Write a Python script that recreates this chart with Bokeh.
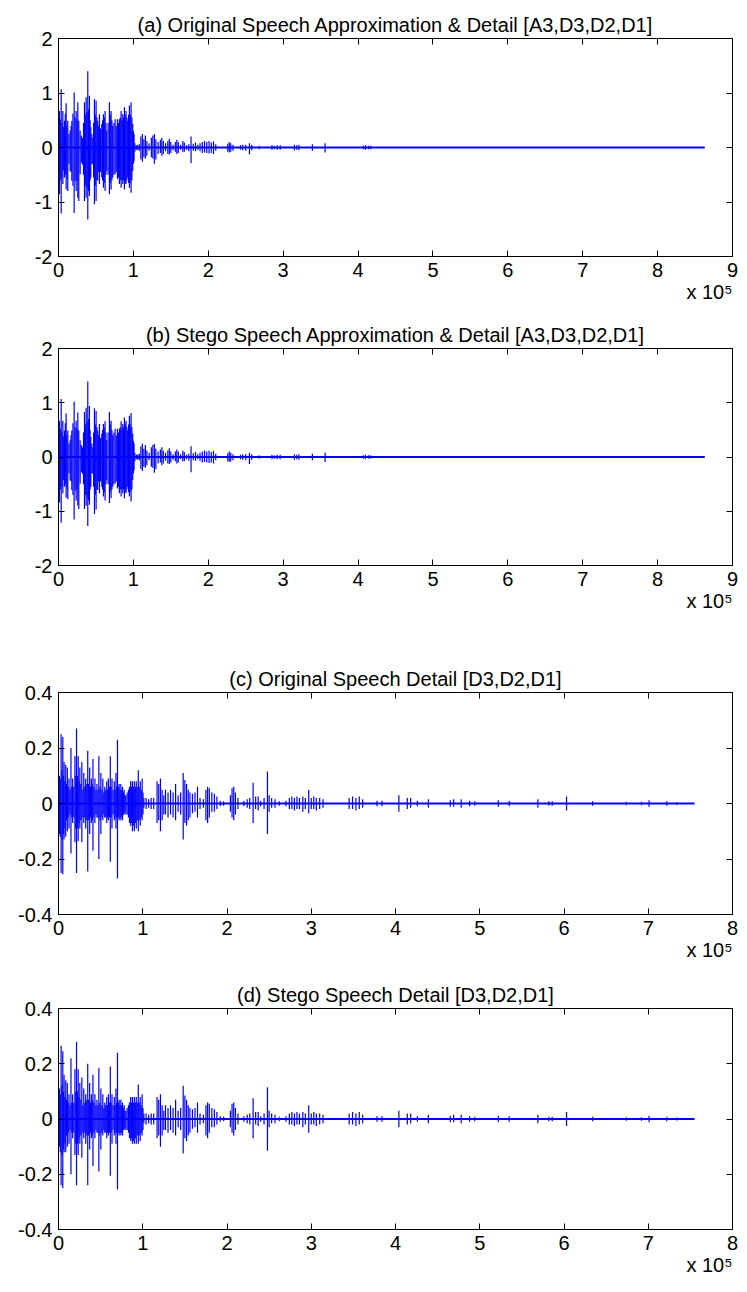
import numpy as np
from bokeh.plotting import figure
from bokeh.layouts import column
from bokeh.models import Range1d, FixedTicker, LinearAxis, ColumnDataSource, Title
from bokeh.embed import file_html
from bokeh.resources import INLINE

FONT = "Liberation Sans"
BLUE = "#0000ff"

# ---------------- data (x in units of 1e5 samples) ----------------
titles = [
    "(a) Original Speech Approximation & Detail [A3,D3,D2,D1]",
    "(b) Stego Speech Approximation & Detail [A3,D3,D2,D1]",
    "(c) Original Speech Detail [D3,D2,D1]",
    "(d) Stego Speech Detail [D3,D2,D1]",
]
x_multiplier = "x 10\u2075"
approx_xticks = [0, 1, 2, 3, 4, 5, 6, 7, 8, 9]
approx_xlabels = ["0", "1", "2", "3", "4", "5", "6", "7", "8", "9"]
approx_yticks = [-2, -1, 0, 1, 2]
approx_ylabels = ["-2", "-1", "0", "1", "2"]
detail_xticks = [0, 1, 2, 3, 4, 5, 6, 7, 8]
detail_xlabels = ["0", "1", "2", "3", "4", "5", "6", "7", "8"]
detail_yticks = [-0.4, -0.2, 0, 0.2, 0.4]
detail_ylabels = ["-0.4", "-0.2", "0", "0.2", "0.4"]

approx_length = 8.63
detail_length = 7.55

a_x = [
    0.005, 0.013, 0.024, 0.036, 0.047, 0.058, 0.069, 0.080, 0.091, 0.102,
    0.113, 0.124, 0.140, 0.156, 0.167, 0.178, 0.193, 0.209, 0.222, 0.236,
    0.247, 0.258, 0.271, 0.289, 0.305, 0.320, 0.334, 0.347, 0.358, 0.369,
    0.380, 0.391, 0.402, 0.413, 0.422, 0.431, 0.445, 0.458, 0.469, 0.480,
    0.491, 0.502, 0.513, 0.524, 0.536, 0.547, 0.562, 0.578, 0.589, 0.600,
    0.611, 0.622, 0.633, 0.644, 0.662, 0.680, 0.691, 0.702, 0.713, 0.724,
    0.740, 0.756, 0.771, 0.787, 0.800, 0.813, 0.825, 0.836, 0.847, 0.858,
    0.869, 0.880, 0.891, 0.902, 0.913, 0.924, 0.936, 0.947, 0.958, 0.969,
    0.980, 0.991, 1.000, 1.009, 1.020, 1.040, 1.060, 1.080, 1.100, 1.120,
    1.14, 1.16, 1.18, 1.21, 1.24, 1.26, 1.28, 1.30, 1.33, 1.36,
    1.38, 1.40, 1.43, 1.46, 1.48, 1.50, 1.53, 1.56, 1.58, 1.60,
    1.63, 1.66, 1.68, 1.71, 1.74, 1.77, 1.80, 1.83, 1.86, 1.89,
    1.92, 1.95, 1.98, 2.01, 2.04, 2.07, 2.10, 2.26, 2.28, 2.30,
    2.33, 2.43, 2.46, 2.50, 2.55, 2.58, 2.68, 2.85, 2.88, 2.92,
    2.96, 3.15, 3.18, 3.21, 3.39, 3.56, 4.07, 4.10, 4.14, 4.17,
]
a_top = [
    0.35, 0.67, 0.52, 1.07, 0.45, 0.67, 0.38, 0.49, 0.62, 0.81,
    0.40, 0.49, 0.25, 0.31, 0.40, 0.49, 0.62, 1.01, 0.55, 0.67,
    0.52, 0.83, 0.49, 0.31, 0.22, 0.18, 0.45, 0.83, 0.60, 0.92,
    0.65, 1.40, 0.70, 0.95, 0.50, 0.37, 0.25, 0.18, 0.45, 0.89,
    0.60, 0.86, 0.55, 0.49, 0.40, 0.61, 0.35, 0.43, 0.50, 0.61,
    0.55, 0.67, 0.45, 0.31, 0.45, 0.83, 0.60, 0.67, 0.50, 0.40,
    0.45, 0.52, 0.40, 0.52, 0.45, 0.52, 0.55, 0.67, 0.50, 0.61,
    0.55, 0.74, 0.60, 0.67, 0.55, 0.49, 0.60, 0.77, 0.60, 0.83,
    0.55, 0.43, 0.30, 0.25, 0.08, 0.04, 0.05, 0.06, 0.20, 0.25,
    0.15, 0.22, 0.12, 0.08, 0.18, 0.22, 0.25, 0.15, 0.10, 0.14,
    0.18, 0.12, 0.08, 0.12, 0.16, 0.10, 0.05, 0.10, 0.14, 0.10,
    0.05, 0.12, 0.09, 0.04, 0.06, 0.20, 0.07, 0.09, 0.05, 0.08,
    0.10, 0.12, 0.10, 0.12, 0.09, 0.11, 0.06, 0.07, 0.10, 0.08,
    0.05, 0.04, 0.05, 0.05, 0.08, 0.05, 0.03, 0.04, 0.03, 0.04,
    0.04, 0.05, 0.04, 0.05, 0.06, 0.08, 0.03, 0.04, 0.03, 0.03,
]
a_bot = [
    -0.40, -0.86, -0.60, -1.21, -0.55, -0.67, -0.42, -0.55, -0.50, -0.77,
    -0.58, -0.80, -0.30, -0.43, -0.45, -0.61, -0.70, -1.20, -0.62, -0.80,
    -0.60, -0.92, -0.98, -0.49, -0.28, -0.31, -0.50, -0.98, -0.70, -0.92,
    -0.75, -1.32, -0.80, -0.89, -0.60, -0.55, -0.30, -0.31, -0.55, -1.04,
    -0.70, -0.98, -0.60, -0.61, -0.45, -0.67, -0.45, -0.55, -0.60, -0.74,
    -0.65, -0.80, -0.50, -0.43, -0.50, -0.86, -0.65, -0.77, -0.60, -0.55,
    -0.50, -0.49, -0.45, -0.58, -0.55, -0.67, -0.60, -0.74, -0.60, -0.67,
    -0.60, -0.77, -0.65, -0.67, -0.60, -0.55, -0.65, -0.74, -0.65, -0.83,
    -0.60, -0.43, -0.30, -0.25, -0.08, -0.04, -0.05, -0.06, -0.22, -0.26,
    -0.18, -0.20, -0.15, -0.06, -0.18, -0.20, -0.30, -0.22, -0.12, -0.10,
    -0.15, -0.12, -0.07, -0.12, -0.13, -0.10, -0.05, -0.08, -0.12, -0.10,
    -0.04, -0.08, -0.08, -0.04, -0.07, -0.29, -0.06, -0.07, -0.04, -0.07,
    -0.10, -0.09, -0.10, -0.11, -0.10, -0.12, -0.06, -0.08, -0.09, -0.08,
    -0.06, -0.04, -0.05, -0.06, -0.13, -0.05, -0.03, -0.04, -0.03, -0.04,
    -0.04, -0.05, -0.04, -0.05, -0.06, -0.09, -0.03, -0.04, -0.03, -0.03,
]

b_x = list(a_x)
b_top = [
    0.35, 0.67, 0.52, 1.07, 0.45, 0.67, 0.38, 0.49, 0.62, 0.80,
    0.40, 0.49, 0.25, 0.31, 0.40, 0.49, 0.62, 1.02, 0.55, 0.67,
    0.52, 0.82, 0.49, 0.31, 0.22, 0.18, 0.45, 0.83, 0.60, 0.91,
    0.65, 1.39, 0.70, 0.94, 0.50, 0.37, 0.25, 0.18, 0.45, 0.90,
    0.60, 0.85, 0.55, 0.49, 0.40, 0.61, 0.35, 0.43, 0.50, 0.61,
    0.55, 0.66, 0.45, 0.31, 0.45, 0.83, 0.60, 0.67, 0.50, 0.40,
    0.45, 0.52, 0.40, 0.52, 0.45, 0.52, 0.55, 0.66, 0.50, 0.61,
    0.55, 0.73, 0.60, 0.67, 0.55, 0.49, 0.60, 0.76, 0.60, 0.81,
    0.55, 0.43, 0.30, 0.25, 0.08, 0.04, 0.05, 0.06, 0.20, 0.25,
    0.15, 0.22, 0.12, 0.08, 0.18, 0.22, 0.24, 0.15, 0.10, 0.14,
    0.18, 0.12, 0.08, 0.12, 0.16, 0.10, 0.05, 0.10, 0.14, 0.10,
    0.05, 0.12, 0.09, 0.04, 0.06, 0.20, 0.07, 0.09, 0.05, 0.08,
    0.10, 0.12, 0.10, 0.12, 0.09, 0.11, 0.06, 0.07, 0.10, 0.08,
    0.05, 0.04, 0.05, 0.05, 0.08, 0.05, 0.03, 0.04, 0.03, 0.04,
    0.04, 0.05, 0.04, 0.05, 0.06, 0.08, 0.03, 0.04, 0.03, 0.03,
]
b_bot = [
    -0.40, -0.84, -0.60, -1.21, -0.55, -0.67, -0.42, -0.55, -0.50, -0.75,
    -0.58, -0.78, -0.30, -0.43, -0.45, -0.61, -0.70, -1.15, -0.62, -0.80,
    -0.60, -0.90, -0.96, -0.49, -0.28, -0.31, -0.50, -0.96, -0.70, -0.90,
    -0.75, -1.27, -0.80, -0.88, -0.60, -0.55, -0.30, -0.31, -0.55, -1.05,
    -0.70, -0.97, -0.60, -0.61, -0.45, -0.67, -0.45, -0.55, -0.60, -0.73,
    -0.65, -0.80, -0.50, -0.43, -0.50, -0.85, -0.65, -0.76, -0.60, -0.55,
    -0.50, -0.49, -0.45, -0.58, -0.55, -0.67, -0.60, -0.73, -0.60, -0.67,
    -0.60, -0.76, -0.65, -0.67, -0.60, -0.55, -0.65, -0.73, -0.65, -0.82,
    -0.60, -0.43, -0.30, -0.25, -0.08, -0.04, -0.05, -0.06, -0.22, -0.26,
    -0.18, -0.20, -0.15, -0.06, -0.18, -0.20, -0.29, -0.22, -0.12, -0.10,
    -0.15, -0.12, -0.07, -0.12, -0.13, -0.10, -0.05, -0.08, -0.12, -0.10,
    -0.04, -0.08, -0.08, -0.04, -0.07, -0.28, -0.06, -0.07, -0.04, -0.07,
    -0.10, -0.09, -0.10, -0.11, -0.10, -0.12, -0.06, -0.08, -0.09, -0.08,
    -0.06, -0.04, -0.05, -0.06, -0.13, -0.05, -0.03, -0.04, -0.03, -0.04,
    -0.04, -0.05, -0.04, -0.05, -0.06, -0.09, -0.03, -0.04, -0.03, -0.03,
]

c_x = [
    0.006, 0.012, 0.021, 0.031, 0.041, 0.051, 0.060, 0.066, 0.076, 0.086,
    0.096, 0.105, 0.115, 0.125, 0.137, 0.148, 0.158, 0.168, 0.181, 0.195,
    0.205, 0.214, 0.224, 0.234, 0.244, 0.253, 0.265, 0.277, 0.289, 0.300,
    0.312, 0.323, 0.335, 0.347, 0.358, 0.370, 0.380, 0.390, 0.400, 0.409,
    0.420, 0.432, 0.444, 0.456, 0.468, 0.479, 0.491, 0.503, 0.515, 0.526,
    0.538, 0.549, 0.561, 0.573, 0.583, 0.592, 0.604, 0.615, 0.625, 0.635,
    0.648, 0.662, 0.672, 0.682, 0.691, 0.700, 0.710, 0.720, 0.730, 0.740,
    0.750, 0.760, 0.770, 0.780, 0.790, 0.800, 0.815, 0.830, 0.843, 0.857,
    0.867, 0.877, 0.888, 0.900, 0.912, 0.923, 0.935, 0.947, 0.958, 0.970,
    0.982, 0.993, 1.003, 1.013, 1.04, 1.07, 1.10, 1.13, 1.17, 1.19,
    1.21, 1.23, 1.25, 1.27, 1.30, 1.33, 1.36, 1.39, 1.42, 1.45,
    1.48, 1.50, 1.52, 1.54, 1.56, 1.59, 1.62, 1.65, 1.68, 1.72,
    1.75, 1.77, 1.79, 1.82, 1.85, 1.88, 1.92, 1.96, 2.04, 2.06,
    2.08, 2.10, 2.13, 2.20, 2.24, 2.27, 2.31, 2.34, 2.37, 2.40,
    2.44, 2.48, 2.50, 2.53, 2.57, 2.62, 2.70, 2.74, 2.77, 2.80,
    2.83, 2.86, 2.90, 2.93, 2.97, 3.00, 3.03, 3.06, 3.10, 3.14,
    3.45, 3.49, 3.53, 3.57, 3.61, 3.78, 3.84, 4.04, 4.14, 4.18,
    4.26, 4.39, 4.65, 4.69, 4.78, 4.88, 4.94, 5.22, 5.35, 5.69,
    5.82, 5.86, 6.03, 6.34, 6.74, 6.92, 7.01, 7.22, 7.34,
]
c_top = [
    0.05, 0.10, 0.09, 0.25, 0.12, 0.24, 0.10, 0.15, 0.08, 0.14,
    0.07, 0.13, 0.06, 0.09, 0.05, 0.20, 0.06, 0.09, 0.06, 0.17,
    0.10, 0.27, 0.10, 0.17, 0.08, 0.13, 0.07, 0.15, 0.05, 0.11,
    0.06, 0.09, 0.07, 0.19, 0.07, 0.13, 0.06, 0.09, 0.07, 0.16,
    0.06, 0.09, 0.05, 0.07, 0.05, 0.17, 0.06, 0.11, 0.05, 0.09,
    0.04, 0.06, 0.05, 0.08, 0.05, 0.09, 0.06, 0.17, 0.06, 0.09,
    0.05, 0.08, 0.05, 0.11, 0.06, 0.23, 0.06, 0.07, 0.05, 0.07,
    0.05, 0.06, 0.04, 0.05, 0.03, 0.03, 0.04, 0.05, 0.06, 0.08,
    0.06, 0.08, 0.06, 0.08, 0.06, 0.08, 0.06, 0.12, 0.06, 0.08,
    0.05, 0.09, 0.04, 0.02, 0.02, 0.015, 0.02, 0.02, 0.08, 0.07,
    0.09, 0.05, 0.03, 0.05, 0.04, 0.05, 0.04, 0.07, 0.03, 0.04,
    0.11, 0.085, 0.07, 0.05, 0.04, 0.035, 0.04, 0.06, 0.02, 0.015,
    0.05, 0.06, 0.055, 0.04, 0.035, 0.025, 0.01, 0.008, 0.03, 0.055,
    0.06, 0.04, 0.02, 0.01, 0.015, 0.02, 0.075, 0.025, 0.025, 0.01,
    0.02, 0.115, 0.03, 0.02, 0.015, 0.008, 0.01, 0.02, 0.025, 0.02,
    0.025, 0.02, 0.025, 0.02, 0.05, 0.02, 0.025, 0.02, 0.02, 0.015,
    0.02, 0.025, 0.02, 0.025, 0.015, 0.01, 0.01, 0.03, 0.02, 0.02,
    0.01, 0.015, 0.012, 0.015, 0.015, 0.01, 0.008, 0.012, 0.01, 0.015,
    0.008, 0.008, 0.025, 0.008, 0.006, 0.006, 0.012, 0.008, 0.005,
]
c_bot = [
    -0.06, -0.11, -0.12, -0.25, -0.13, -0.255, -0.11, -0.13, -0.09, -0.12,
    -0.06, -0.10, -0.05, -0.09, -0.04, -0.18, -0.05, -0.07, -0.05, -0.14,
    -0.09, -0.25, -0.09, -0.135, -0.07, -0.09, -0.06, -0.14, -0.05, -0.07,
    -0.05, -0.09, -0.06, -0.245, -0.06, -0.11, -0.05, -0.07, -0.06, -0.17,
    -0.05, -0.07, -0.04, -0.05, -0.05, -0.20, -0.06, -0.11, -0.05, -0.06,
    -0.04, -0.05, -0.05, -0.07, -0.05, -0.06, -0.05, -0.21, -0.05, -0.09,
    -0.04, -0.06, -0.05, -0.09, -0.05, -0.27, -0.05, -0.06, -0.05, -0.06,
    -0.05, -0.06, -0.04, -0.04, -0.03, -0.04, -0.04, -0.05, -0.07, -0.08,
    -0.07, -0.10, -0.08, -0.10, -0.07, -0.09, -0.06, -0.10, -0.06, -0.08,
    -0.05, -0.06, -0.04, -0.015, -0.02, -0.015, -0.02, -0.02, -0.07, -0.06,
    -0.10, -0.06, -0.04, -0.04, -0.05, -0.04, -0.05, -0.06, -0.03, -0.04,
    -0.13, -0.07, -0.08, -0.06, -0.05, -0.035, -0.03, -0.05, -0.02, -0.015,
    -0.06, -0.07, -0.05, -0.03, -0.03, -0.02, -0.01, -0.008, -0.03, -0.05,
    -0.06, -0.04, -0.02, -0.01, -0.015, -0.02, -0.07, -0.02, -0.025, -0.01,
    -0.02, -0.11, -0.03, -0.015, -0.015, -0.008, -0.01, -0.02, -0.02, -0.025,
    -0.02, -0.02, -0.03, -0.02, -0.035, -0.02, -0.02, -0.025, -0.02, -0.015,
    -0.02, -0.02, -0.025, -0.02, -0.015, -0.01, -0.01, -0.03, -0.02, -0.015,
    -0.01, -0.015, -0.012, -0.012, -0.015, -0.01, -0.008, -0.012, -0.01, -0.015,
    -0.008, -0.008, -0.025, -0.008, -0.006, -0.006, -0.012, -0.008, -0.005,
]

d_x = list(c_x)
d_top = [
    0.05, 0.11, 0.09, 0.265, 0.12, 0.245, 0.10, 0.16, 0.08, 0.14,
    0.07, 0.13, 0.06, 0.09, 0.05, 0.22, 0.06, 0.09, 0.06, 0.18,
    0.10, 0.28, 0.10, 0.18, 0.08, 0.13, 0.07, 0.15, 0.05, 0.11,
    0.06, 0.09, 0.07, 0.20, 0.07, 0.13, 0.06, 0.09, 0.07, 0.16,
    0.06, 0.09, 0.05, 0.07, 0.05, 0.185, 0.06, 0.11, 0.05, 0.09,
    0.04, 0.06, 0.05, 0.08, 0.05, 0.09, 0.06, 0.19, 0.06, 0.09,
    0.05, 0.08, 0.05, 0.11, 0.06, 0.24, 0.06, 0.07, 0.05, 0.07,
    0.05, 0.06, 0.04, 0.05, 0.03, 0.03, 0.04, 0.05, 0.06, 0.08,
    0.06, 0.08, 0.06, 0.08, 0.06, 0.08, 0.06, 0.125, 0.06, 0.08,
    0.05, 0.09, 0.04, 0.02, 0.02, 0.015, 0.02, 0.02, 0.08, 0.07,
    0.09, 0.05, 0.03, 0.05, 0.04, 0.05, 0.04, 0.07, 0.03, 0.04,
    0.12, 0.085, 0.07, 0.05, 0.04, 0.035, 0.04, 0.06, 0.02, 0.015,
    0.05, 0.06, 0.055, 0.04, 0.035, 0.025, 0.01, 0.008, 0.03, 0.055,
    0.06, 0.04, 0.02, 0.01, 0.015, 0.02, 0.075, 0.025, 0.025, 0.01,
    0.02, 0.115, 0.03, 0.02, 0.015, 0.008, 0.01, 0.02, 0.025, 0.02,
    0.025, 0.02, 0.025, 0.02, 0.05, 0.02, 0.025, 0.02, 0.02, 0.015,
    0.02, 0.025, 0.02, 0.025, 0.015, 0.01, 0.01, 0.03, 0.02, 0.02,
    0.01, 0.015, 0.012, 0.015, 0.015, 0.01, 0.008, 0.012, 0.01, 0.015,
    0.008, 0.008, 0.025, 0.008, 0.006, 0.006, 0.012, 0.008, 0.005,
]
d_bot = [
    -0.06, -0.10, -0.12, -0.24, -0.13, -0.25, -0.11, -0.12, -0.09, -0.12,
    -0.06, -0.10, -0.05, -0.09, -0.04, -0.20, -0.05, -0.07, -0.05, -0.13,
    -0.09, -0.24, -0.09, -0.13, -0.07, -0.09, -0.06, -0.14, -0.05, -0.07,
    -0.05, -0.09, -0.06, -0.24, -0.06, -0.11, -0.05, -0.07, -0.06, -0.17,
    -0.05, -0.07, -0.04, -0.05, -0.05, -0.19, -0.06, -0.11, -0.05, -0.06,
    -0.04, -0.05, -0.05, -0.07, -0.05, -0.06, -0.05, -0.205, -0.05, -0.09,
    -0.04, -0.06, -0.05, -0.09, -0.05, -0.255, -0.05, -0.06, -0.05, -0.06,
    -0.05, -0.06, -0.04, -0.04, -0.03, -0.04, -0.04, -0.05, -0.07, -0.08,
    -0.07, -0.09, -0.08, -0.09, -0.07, -0.09, -0.06, -0.09, -0.06, -0.08,
    -0.05, -0.06, -0.04, -0.015, -0.02, -0.015, -0.02, -0.02, -0.07, -0.06,
    -0.10, -0.06, -0.04, -0.04, -0.05, -0.04, -0.05, -0.06, -0.03, -0.04,
    -0.125, -0.07, -0.08, -0.06, -0.05, -0.035, -0.03, -0.05, -0.02, -0.015,
    -0.06, -0.07, -0.05, -0.03, -0.03, -0.02, -0.01, -0.008, -0.03, -0.05,
    -0.06, -0.04, -0.02, -0.01, -0.015, -0.02, -0.07, -0.02, -0.025, -0.01,
    -0.02, -0.115, -0.03, -0.015, -0.015, -0.008, -0.01, -0.02, -0.02, -0.025,
    -0.02, -0.02, -0.03, -0.02, -0.05, -0.02, -0.02, -0.025, -0.02, -0.015,
    -0.02, -0.02, -0.025, -0.02, -0.015, -0.01, -0.01, -0.03, -0.02, -0.015,
    -0.01, -0.015, -0.012, -0.012, -0.015, -0.01, -0.008, -0.012, -0.01, -0.015,
    -0.008, -0.008, -0.025, -0.008, -0.006, -0.006, -0.012, -0.008, -0.005,
]

WIDTH = 747


def style_axis(ax, ticks, labels, show):
    ax.ticker = FixedTicker(ticks=ticks)
    ax.axis_line_color = "black"
    ax.axis_line_width = 1
    ax.major_tick_line_color = "black"
    ax.major_tick_line_width = 1
    ax.major_tick_in = 6
    ax.major_tick_out = 0
    ax.minor_tick_line_color = None
    ax.major_label_text_font = FONT
    if show:
        ax.major_label_overrides = {t: l for t, l in zip(ticks, labels)}
        ax.major_label_text_color = "black"
        ax.major_label_text_font_size = "20px"
        ax.major_label_standoff = 6
    else:
        ax.major_label_text_color = None
        ax.major_label_text_font_size = "0px"
        ax.major_label_standoff = 0


def panel(title, xs, tops, bots, length, xticks, xlabels, yticks, ylabels,
          height, bl, br, bt, bb):
    xmin, xmax = xticks[0], xticks[-1]
    ymin, ymax = yticks[0], yticks[-1]
    p = figure(width=WIDTH, height=height, output_backend="svg",
               toolbar_location=None,
               x_range=Range1d(xmin, xmax), y_range=Range1d(ymin, ymax),
               min_border_left=bl, min_border_right=br,
               min_border_top=bt, min_border_bottom=bb)
    p.grid.visible = False
    p.outline_line_color = "black"
    p.outline_line_width = 1
    p.background_fill_color = "white"
    p.border_fill_color = "white"

    xa = p.xaxis[0]
    style_axis(xa, xticks, xlabels, True)
    style_axis(p.yaxis[0], yticks, ylabels, True)
    top_ax = LinearAxis()
    right_ax = LinearAxis()
    style_axis(top_ax, xticks, xlabels, False)
    style_axis(right_ax, yticks, ylabels, False)
    p.add_layout(top_ax, "above")
    p.add_layout(right_ax, "right")

    p.add_layout(Title(text=title, align="center", text_font=FONT,
                       text_font_size="20px", text_font_style="normal",
                       text_color="black", standoff=6), "above")

    # "x 10^5" note at the right end, under the tick labels
    xa.axis_label = x_multiplier
    xa.axis_label_align = "end"
    xa.axis_label_orientation = 0.0001
    xa.axis_label_text_font = FONT
    xa.axis_label_text_font_size = "20px"
    xa.axis_label_text_font_style = "normal"
    xa.axis_label_text_color = "black"
    xa.axis_label_standoff = 12

    src = ColumnDataSource(dict(x=xs, top=tops, bot=bots))
    p.line(x=[xmin, length], y=[0, 0], line_color=BLUE, line_width=2)
    p.segment(x0="x", y0="bot", x1="x", y1="top", source=src,
              line_color=BLUE, line_width=1.2)
    return p


pa = panel(titles[0], a_x, a_top, a_bot, approx_length, approx_xticks, approx_xlabels,
           approx_yticks, approx_ylabels, 318, 58, 15, 38, 62)
pb = panel(titles[1], b_x, b_top, b_bot, approx_length, approx_xticks, approx_xlabels,
           approx_yticks, approx_ylabels, 344, 58, 15, 30, 97)
pc = panel(titles[2], c_x, c_top, c_bot, detail_length, detail_xticks, detail_xlabels,
           detail_yticks, detail_ylabels, 316, 52, 8, 30, 64)
pd = panel(titles[3], d_x, d_top, d_bot, detail_length, detail_xticks, detail_xlabels,
           detail_yticks, detail_ylabels, 314, 52, 8, 30, 63)

layout = column(pa, pb, pc, pd, spacing=0)
open("out.html", "w").write(file_html(layout, INLINE))
